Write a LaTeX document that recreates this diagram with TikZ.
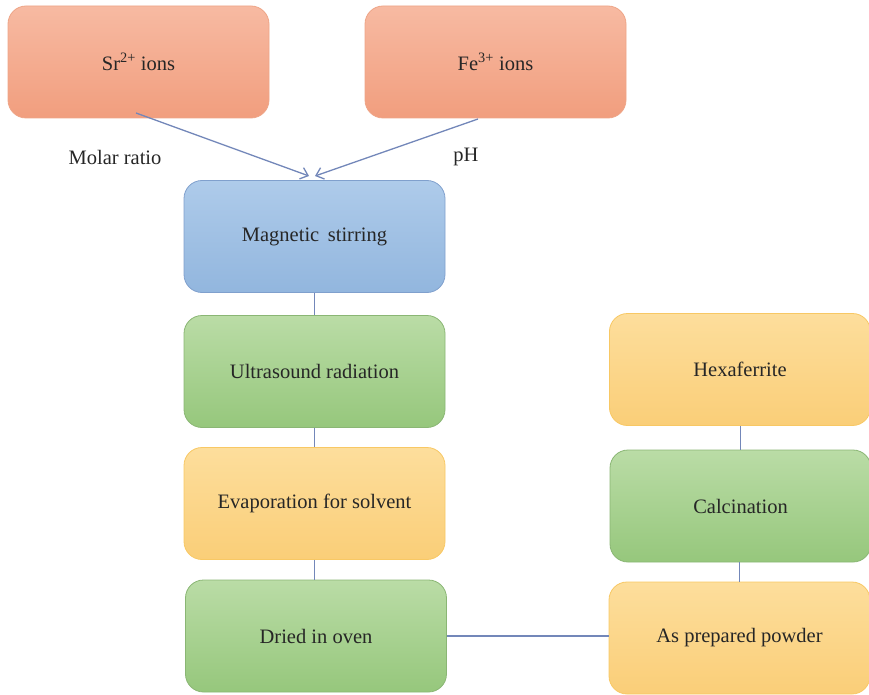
\documentclass[tikz,border=0pt]{standalone}
\usepackage{fontspec}
\setmainfont{Liberation Serif}
\usetikzlibrary{arrows.meta}
\definecolor{lnc}{RGB}{115,135,185}
\definecolor{orT}{RGB}{247,186,162}
\definecolor{orB}{RGB}{241,158,126}
\definecolor{orD}{RGB}{238,165,135}
\definecolor{blT}{RGB}{174,203,234}
\definecolor{blB}{RGB}{146,182,222}
\definecolor{blD}{RGB}{128,160,205}
\definecolor{grT}{RGB}{186,220,166}
\definecolor{grB}{RGB}{150,199,124}
\definecolor{grD}{RGB}{138,182,116}
\definecolor{yeT}{RGB}{253,222,156}
\definecolor{yeB}{RGB}{250,206,120}
\definecolor{yeD}{RGB}{248,200,100}
\tikzset{
  box/.style={rounded corners=18pt, minimum width=261pt, minimum height=112pt,
    line width=0.8pt, font=\fontsize{20.5}{24}\selectfont, text=black!85, inner sep=0pt},
  orbox/.style={box, draw=orD, top color=orT, bottom color=orB},
  blbox/.style={box, draw=blD, top color=blT, bottom color=blB},
  grbox/.style={box, draw=grD, top color=grT, bottom color=grB},
  yebox/.style={box, draw=yeD, top color=yeT, bottom color=yeB},
  link/.style={draw=lnc, line width=1.3pt},
  arr/.style={link, -{Straight Barb[length=7pt,width=12pt]}},
  lbl/.style={font=\fontsize{20.5}{24}\selectfont, text=black!85, inner sep=0pt}
}
\begin{document}
\begin{tikzpicture}[x=1pt,y=-1pt]
\useasboundingbox (0,0) rectangle (869,695);
\node[orbox] (sr) at (138.5,62) {Sr\textsuperscript{2+} ions};
\node[orbox] (fe) at (495.5,62) {Fe\textsuperscript{3+} ions};
\node[blbox] (ms) at (314.5,236.5) {Magnetic\, stirring};
\node[grbox] (us) at (314.5,371.5) {Ultrasound radiation};
\node[yebox] (ev) at (314.5,503.5) {Evaporation for solvent};
\node[grbox] (dr) at (316,636) {Dried in oven};
\node[yebox] (hx) at (740,369.5) {Hexaferrite};
\node[grbox] (ca) at (740.5,506) {Calcination};
\node[yebox] (ap) at (739.5,638) {As prepared powder};
\node[lbl] (mr) at (115,157) {Molar ratio};
\node[lbl] (ph) at (466,157) {pH};
\draw[arr] (136,113) -- (309,176);
\draw[arr] (478,119) -- (315,176);
\draw[link] (ms.south) -- (us.north);
\draw[link] (us.south) -- (ev.north);
\draw[link] (ev.south) -- (ev.south |- dr.north);
\draw[link] (dr.east) -- (dr.east -| ap.west);
\draw[link] (ap.north) -- (ap.north |- ca.south);
\draw[link] (ca.north) -- (ca.north |- hx.south);
\end{tikzpicture}
\end{document}
